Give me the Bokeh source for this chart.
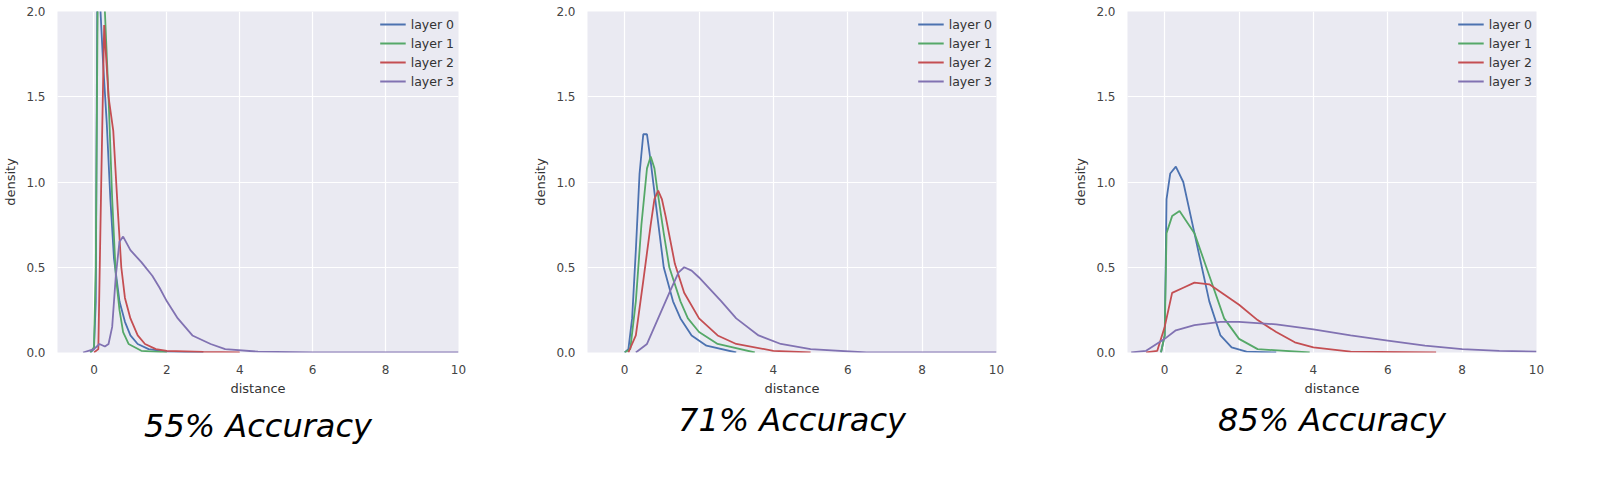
from bokeh.embed import file_html
from bokeh.layouts import row
from bokeh.models import Range1d, Title, Legend, LegendItem, CustomJSTickFormatter
from bokeh.plotting import figure
from bokeh.resources import INLINE

COLORS = ["#4C72B0", "#55A868", "#C44E52", "#8172B2"]
LABELS = ["layer 0", "layer 1", "layer 2", "layer 3"]
TITLES = ["55% Accuracy", "71% Accuracy", "85% Accuracy"]

# panel 1 (55%)
p1_x0 = [-0.1, 0.0, 0.05, 0.09, 0.13, 0.18, 0.25, 0.35, 0.45, 0.55, 0.7, 0.85, 1.0, 1.2, 1.5, 2.0, 3.0]
p1_y0 = [0.0, 0.02, 0.3, 2.0, 2.6, 2.0, 1.7, 1.35, 0.9, 0.55, 0.3, 0.18, 0.1, 0.05, 0.02, 0.005, 0.0]
p1_x1 = [-0.1, 0.0, 0.05, 0.1, 0.18, 0.24, 0.3, 0.4, 0.5, 0.6, 0.7, 0.8, 0.95, 1.3, 2.0]
p1_y1 = [0.0, 0.03, 0.5, 2.0, 2.6, 2.4, 2.0, 1.5, 0.9, 0.45, 0.25, 0.12, 0.05, 0.01, 0.0]
p1_x2 = [0.0, 0.12, 0.2, 0.28, 0.4, 0.53, 0.65, 0.75, 0.85, 1.0, 1.2, 1.4, 1.7, 2.0, 3.0, 4.0]
p1_y2 = [0.0, 0.02, 1.0, 1.92, 1.5, 1.3, 0.85, 0.5, 0.32, 0.2, 0.1, 0.05, 0.02, 0.01, 0.003, 0.0]
p1_x3 = [-0.3, 0.0, 0.15, 0.3, 0.4, 0.5, 0.6, 0.7, 0.8, 1.0, 1.3, 1.6, 1.8, 2.0, 2.3, 2.7, 3.2, 3.6, 4.5, 6.0, 10.0]
p1_y3 = [0.0, 0.02, 0.05, 0.035, 0.05, 0.15, 0.45, 0.65, 0.68, 0.6, 0.53, 0.45, 0.38, 0.3, 0.2, 0.1, 0.05, 0.02, 0.005, 0.0, 0.0]

# panel 2 (71%)
p2_x0 = [0.0, 0.1, 0.2, 0.3, 0.4, 0.5, 0.6, 0.7, 0.85, 1.05, 1.3, 1.5, 1.8, 2.2, 3.0]
p2_y0 = [0.0, 0.02, 0.2, 0.6, 1.05, 1.28, 1.28, 1.12, 0.85, 0.5, 0.3, 0.2, 0.1, 0.04, 0.0]
p2_x1 = [0.0, 0.15, 0.3, 0.45, 0.6, 0.7, 0.8, 0.9, 1.05, 1.2, 1.5, 1.7, 2.0, 2.5, 3.5]
p2_y1 = [0.0, 0.02, 0.3, 0.75, 1.08, 1.15, 1.08, 0.92, 0.7, 0.5, 0.3, 0.2, 0.12, 0.05, 0.0]
p2_x2 = [0.1, 0.3, 0.5, 0.7, 0.8, 0.9, 1.0, 1.1, 1.35, 1.6, 2.0, 2.5, 3.0, 4.0, 5.0]
p2_y2 = [0.0, 0.1, 0.42, 0.75, 0.9, 0.95, 0.9, 0.8, 0.52, 0.35, 0.2, 0.1, 0.05, 0.01, 0.0]
p2_x3 = [0.3, 0.6, 0.9, 1.2, 1.45, 1.6, 1.8, 2.0, 2.3, 2.6, 3.0, 3.6, 4.2, 5.0, 6.5, 10.0]
p2_y3 = [0.0, 0.05, 0.2, 0.35, 0.47, 0.5, 0.48, 0.44, 0.37, 0.3, 0.2, 0.1, 0.05, 0.02, 0.0, 0.0]

# panel 3 (85%)
p3_x0 = [-0.1, 0.0, 0.05, 0.15, 0.3, 0.5, 0.8, 1.0, 1.2, 1.5, 1.8, 2.2, 3.0]
p3_y0 = [0.0, 0.1, 0.9, 1.05, 1.09, 1.0, 0.7, 0.5, 0.3, 0.1, 0.03, 0.005, 0.0]
p3_x1 = [-0.1, 0.0, 0.05, 0.2, 0.4, 0.8, 1.2, 1.6, 2.0, 2.5, 3.9]
p3_y1 = [0.0, 0.1, 0.7, 0.8, 0.83, 0.7, 0.45, 0.2, 0.08, 0.02, 0.0]
p3_x2 = [-0.5, -0.2, 0.0, 0.2, 0.5, 0.8, 1.2, 1.6, 2.0, 2.5, 3.0, 3.5, 4.0, 5.0, 7.3]
p3_y2 = [0.0, 0.01, 0.15, 0.35, 0.38, 0.41, 0.4, 0.34, 0.28, 0.19, 0.12, 0.06, 0.03, 0.005, 0.0]
p3_x3 = [-0.9, -0.5, 0.0, 0.3, 0.8, 1.5, 2.0, 3.0, 4.0, 5.0, 6.0, 7.0, 8.0, 9.0, 10.0]
p3_y3 = [0.0, 0.01, 0.08, 0.13, 0.16, 0.18, 0.18, 0.165, 0.135, 0.1, 0.07, 0.04, 0.02, 0.01, 0.005]

PANELS = [
    [(p1_x0, p1_y0), (p1_x1, p1_y1), (p1_x2, p1_y2), (p1_x3, p1_y3)],
    [(p2_x0, p2_y0), (p2_x1, p2_y1), (p2_x2, p2_y2), (p2_x3, p2_y3)],
    [(p3_x0, p3_y0), (p3_x1, p3_y1), (p3_x2, p3_y2), (p3_x3, p3_y3)],
]

# (width, border_left, frame_height, title_offset, title_standoff)
GEOM = [(530, 49, 341, -70, 12), (530, 57, 352, -67, 0), (524, 67, 352, -1, 0)]
FONT = "DejaVu Sans"

figs = []
for series, title, (w, bl, fh, toff, tst) in zip(PANELS, TITLES, GEOM):
    fw = 409
    p = figure(width=w, height=471, output_backend="svg", toolbar_location=None,
               x_range=Range1d(-1, 10), y_range=Range1d(0, 2),
               min_border_left=bl, min_border_right=w - bl - fw,
               min_border_top=11, min_border_bottom=471 - 11 - fh)
    p.background_fill_color = "#EAEAF2"
    p.outline_line_color = None
    p.grid.grid_line_color = "white"
    p.grid.grid_line_width = 1.2
    p.xaxis.ticker = [0, 2, 4, 6, 8, 10]
    p.yaxis.ticker = [0.0, 0.5, 1.0, 1.5, 2.0]
    p.yaxis.formatter = CustomJSTickFormatter(code="return tick.toFixed(1)")
    for ax in (p.xaxis, p.yaxis):
        ax.axis_line_color = None
        ax.major_tick_line_color = None
        ax.minor_tick_line_color = None
        ax.major_label_text_color = "#444444"
        ax.major_label_text_font = FONT
        ax.major_label_text_font_size = "12px"
        ax.axis_label_text_font = FONT
        ax.axis_label_text_font_size = "13px"
        ax.axis_label_text_font_style = "normal"
        ax.axis_label_text_color = "#333333"
        ax.major_label_standoff = 6
    p.xaxis.axis_label = "distance"
    p.yaxis.axis_label = "density"
    p.xaxis.axis_label_standoff = 4
    items = []
    for (xs, ys), c, lab in zip(series, COLORS, LABELS):
        r = p.line(xs, ys, color=c, line_width=1.8)
        items.append(LegendItem(label=lab, renderers=[r]))
    leg = Legend(items=items, location="top_right")
    leg.background_fill_alpha = 0
    leg.border_line_color = None
    leg.label_text_font = FONT
    leg.label_text_font_size = "12.5px"
    leg.label_text_color = "#333333"
    leg.glyph_width = 26
    leg.spacing = 1
    leg.label_height = 18
    leg.glyph_height = 18
    leg.margin = 4
    leg.padding = 6
    p.add_layout(leg)
    t = Title(text=title, align="center", offset=toff, standoff=tst,
              text_font=FONT, text_font_size="32px", text_font_style="italic",
              text_color="black")
    p.add_layout(t, "below")
    figs.append(p)

layout = row(*figs, spacing=0)
open("out.html", "w").write(file_html(layout, INLINE))
